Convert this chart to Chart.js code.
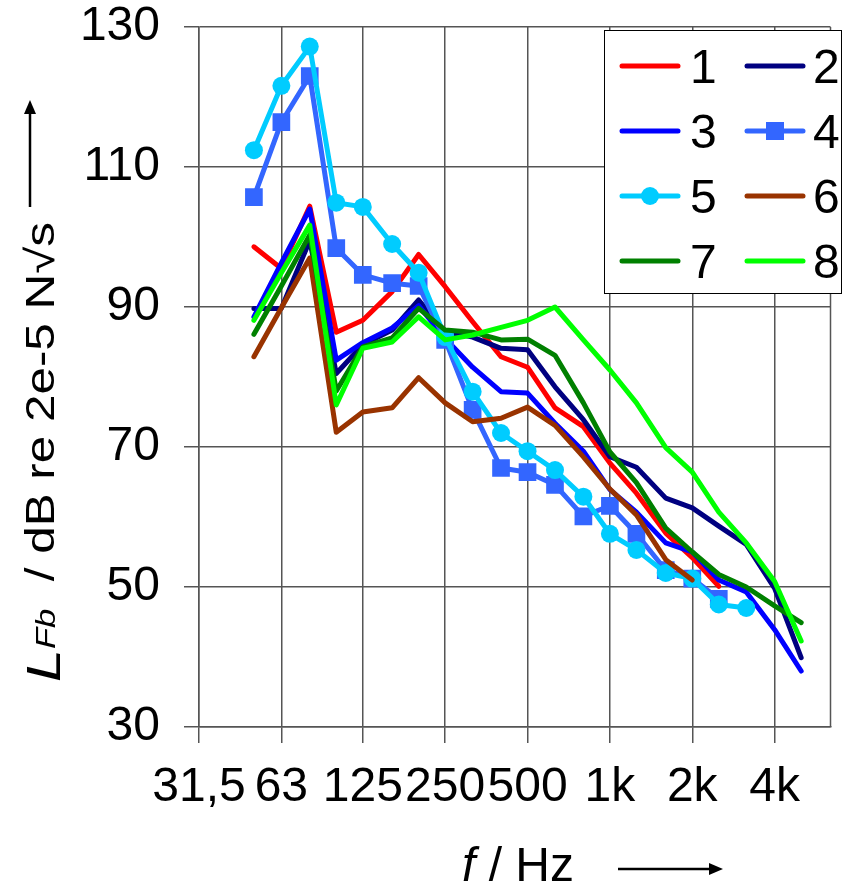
<!DOCTYPE html>
<html>
<head>
<meta charset="utf-8">
<script src="https://cdn.jsdelivr.net/npm/chart.js@4"></script>
<style>
  body { margin: 0; background: #fff; }
  #wrap { width: 843px; height: 886px; }
</style>
</head>
<body>
<div id="wrap"><canvas id="chart" width="843" height="886"></canvas></div>
<script>
// third-octave band centre frequencies (Hz)
const freqs = [50, 63, 80, 100, 125, 160, 200, 250, 315, 400, 500, 630, 800, 1000, 1250, 1600, 2000, 2500, 3150, 4000, 5000];
// octave ticks on the x axis
const tickValues = [31.5, 63, 125, 250, 500, 1000, 2000, 4000];
const tickLabels = ['31,5', '63', '125', '250', '500', '1k', '2k', '4k'];

// L_Fb per band, dB re 2e-5 N√s
const s1 = [98.6, 95.5, 104.4, 86.4, 88.1, 92.2, 97.5, 92.9, 87.9, 82.9, 81.4, 75.6, 72.9, 67.7, 63.4, 57.7, 54.2, 50.1, null, null, null];
const s2 = [89.8, 89.8, 99.5, 80.5, 84.6, 86.7, 91.0, 86.5, 85.7, 84.1, 83.9, 78.6, 73.9, 68.6, 67.1, 62.7, 61.3, 58.7, 56.1, 49.8, 39.9];
const s3 = [88.6, 96.3, 104.0, 82.4, 84.9, 87.0, 90.2, 85.5, 81.4, 77.9, 77.7, 73.4, 69.4, 63.9, 60.7, 56.3, 55.0, 51.0, 49.3, 43.9, 38.0];
const s4 = [105.7, 116.4, 123.0, 98.4, 94.6, 93.4, 93.0, 85.3, 75.3, 67.0, 66.4, 64.6, 60.1, 61.6, 57.6, 52.4, 51.2, 48.3, null, null, null];
const s5 = [112.4, 121.6, 127.2, 104.9, 104.3, 99.0, 94.9, 85.7, 77.9, 72.0, 69.4, 66.7, 62.9, 57.6, 55.3, 52.0, 51.2, 47.5, 47.0, null, null];
const s6 = [82.9, 89.9, 97.0, 72.1, 75.0, 75.6, 79.9, 76.3, 73.6, 74.1, 75.7, 73.1, 68.6, 64.0, 60.3, 53.9, 51.0, null, null, null, null];
const s7 = [86.1, 93.0, 100.3, 78.0, 84.3, 85.6, 89.8, 86.7, 86.4, 85.3, 85.4, 83.1, 76.3, 69.3, 64.9, 58.4, 55.0, 51.8, 50.0, 47.3, 44.9];
const s8 = [88.1, 94.9, 101.7, 76.0, 84.1, 85.0, 88.6, 85.3, 86.0, 87.1, 88.1, 90.0, 85.3, 81.0, 76.3, 69.9, 66.4, 60.7, 56.3, 50.8, 42.3];

const seriesNames = ['1', '2', '3', '4', '5', '6', '7', '8'];
const seriesValues = [s1, s2, s3, s4, s5, s6, s7, s8];
const seriesColors = ['#ff0000', '#000080', '#0000ff', '#3366ff', '#00ccff', '#993300', '#008000', '#00ff00'];
const seriesMarkers = [null, null, null, 'rect', 'circle', null, null, null];

const FONT = "'Liberation Sans', Arial, Helvetica, sans-serif";
Chart.defaults.font.family = FONT;
Chart.defaults.color = '#000';

const datasets = seriesValues.map((vals, i) => ({
  label: seriesNames[i],
  data: freqs.map((f, k) => ({ x: f, y: vals[k] })),
  borderColor: seriesColors[i],
  backgroundColor: seriesColors[i],
  borderWidth: 5,
  pointStyle: seriesMarkers[i] || 'circle',
  pointRadius: seriesMarkers[i] === 'rect' ? 12.5 : (seriesMarkers[i] === 'circle' ? 9 : 0),
  pointBorderWidth: 0,
  borderJoinStyle: 'round',
  borderCapStyle: 'round',
  order: seriesValues.length - i
}));

// right border of the plot box
const frame = {
  id: 'frame',
  beforeDatasetsDraw(chart) {
    const { ctx, chartArea: a } = chart;
    ctx.save();
    ctx.strokeStyle = '#555';
    ctx.lineWidth = 1.5;
    ctx.beginPath();
    ctx.moveTo(a.right, a.top);
    ctx.lineTo(a.right, a.bottom);
    ctx.stroke();
    ctx.restore();
  }
};

function arrowHead(ctx, x, y, dir) {
  ctx.beginPath();
  if (dir === 'up') {
    ctx.moveTo(x, y); ctx.lineTo(x - 6, y + 14); ctx.lineTo(x + 6, y + 14);
  } else {
    ctx.moveTo(x, y); ctx.lineTo(x - 14, y - 6); ctx.lineTo(x - 14, y + 6);
  }
  ctx.closePath();
  ctx.fill();
}

// axis titles with arrows
const titles = {
  id: 'titles',
  afterDraw(chart) {
    const ctx = chart.ctx;
    ctx.save();
    ctx.fillStyle = '#000';
    ctx.strokeStyle = '#000';
    ctx.textBaseline = 'alphabetic';
    ctx.textAlign = 'left';

    // y title, rotated
    const parts = [
      { t: 'L', f: 'italic 48px ' + FONT, b: 60 },
      { t: 'Fb', f: 'italic 28px ' + FONT, b: 55 },
      { t: '  / dB re 2e-5 N\u221As', f: '40px ' + FONT, b: 54 }
    ];
    let total = 0;
    parts.forEach(p => { ctx.font = p.f; p.w = ctx.measureText(p.t).width; total += p.w; });
    const startY = 682, endY = 222;
    const k = (startY - endY) / total;
    let pos = 0;
    parts.forEach(p => {
      ctx.save();
      ctx.translate(p.b, startY);
      ctx.rotate(-Math.PI / 2);
      ctx.scale(k, 1);
      ctx.font = p.f;
      ctx.fillText(p.t, pos, 0);
      ctx.restore();
      pos += p.w;
    });
    ctx.lineWidth = 2.5;
    ctx.beginPath();
    ctx.moveTo(30, 207);
    ctx.lineTo(30, 112);
    ctx.stroke();
    arrowHead(ctx, 30, 100, 'up');

    // x title
    ctx.font = 'italic 48px ' + FONT;
    ctx.fillText('f', 462, 881);
    const fw = ctx.measureText('f').width;
    ctx.font = '48px ' + FONT;
    ctx.fillText(' / Hz', 462 + fw, 881);
    ctx.beginPath();
    ctx.moveTo(618, 869);
    ctx.lineTo(710, 869);
    ctx.stroke();
    arrowHead(ctx, 723, 869, 'right');
    ctx.restore();
  }
};

// legend box in the upper right corner, two columns
const legendBox = {
  id: 'legendBox',
  afterDraw(chart) {
    const ctx = chart.ctx;
    ctx.save();
    ctx.fillStyle = '#fff';
    ctx.fillRect(604.5, 30.5, 237, 263);
    ctx.strokeStyle = '#000';
    ctx.lineWidth = 1;
    ctx.strokeRect(604.5, 30.5, 237, 263);
    chart.data.datasets.forEach((ds, i) => {
      const col = i % 2, row = Math.floor(i / 2);
      const x0 = [622, 747][col];
      const x1 = x0 + 56;
      const ly = 66 + row * 65;
      ctx.strokeStyle = ds.borderColor;
      ctx.lineWidth = 5;
      ctx.lineCap = 'round';
      ctx.beginPath();
      ctx.moveTo(x0, ly);
      ctx.lineTo(x1, ly);
      ctx.stroke();
      const mx = (x0 + x1) / 2;
      ctx.fillStyle = ds.borderColor;
      if (seriesMarkers[i] === 'rect') {
        ctx.fillRect(mx - 9, ly - 9, 18, 18);
      } else if (seriesMarkers[i] === 'circle') {
        ctx.beginPath();
        ctx.arc(mx, ly, 9, 0, Math.PI * 2);
        ctx.fill();
      }
      ctx.fillStyle = '#000';
      ctx.font = '48px ' + FONT;
      ctx.textBaseline = 'alphabetic';
      ctx.fillText(ds.label, [690, 813][col], ly + 16.5);
    });
    ctx.restore();
  }
};

const gridStyle = { color: '#555', lineWidth: 1.5 };

new Chart(document.getElementById('chart'), {
  type: 'line',
  data: { datasets },
  options: {
    responsive: false,
    animation: false,
    layout: { padding: { top: 27, right: 2, left: 0, bottom: 0 } },
    plugins: { legend: { display: false }, tooltip: { enabled: false } },
    scales: {
      x: {
        type: 'logarithmic',
        min: 31.5,
        max: 6400,
        afterBuildTicks: s => { s.ticks = tickValues.map(v => ({ value: v })); },
        afterFit: s => { s.height = 159; s.paddingLeft = 0; s.paddingRight = 0; },
        ticks: {
          autoSkip: false,
          maxRotation: 0,
          minRotation: 0,
          padding: 16,
          color: '#000',
          font: { size: 48 },
          callback: (v, i) => tickLabels[i]
        },
        grid: { color: gridStyle.color, lineWidth: gridStyle.lineWidth, tickLength: 16 },
        border: { color: gridStyle.color, width: gridStyle.lineWidth }
      },
      y: {
        min: 30,
        max: 130,
        afterFit: s => { s.width = 199; s.paddingTop = 0; s.paddingBottom = 0; },
        ticks: { stepSize: 20, padding: 24, color: '#000', font: { size: 48, lineHeight: 1.1 } },
        grid: { color: gridStyle.color, lineWidth: gridStyle.lineWidth, tickLength: 15 },
        border: { color: gridStyle.color, width: gridStyle.lineWidth }
      }
    }
  },
  plugins: [frame, titles, legendBox]
});
</script>
</body>
</html>
